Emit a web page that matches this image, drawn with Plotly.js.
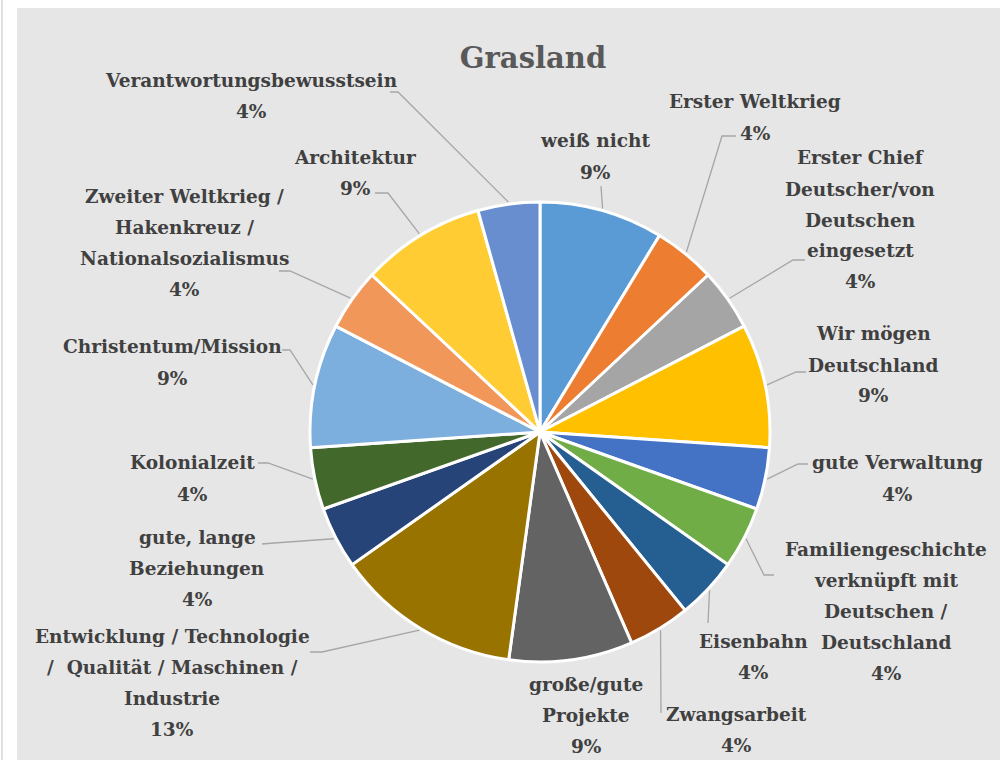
<!DOCTYPE html>
<html>
<head>
<meta charset="utf-8">
<script src="https://cdn.plot.ly/plotly-3.0.1.min.js"></script>
<style>
  html, body { margin: 0; padding: 0; background: #fff; }
  #chart { width: 1005px; height: 760px; }
</style>
</head>
<body>
<div id="chart"></div>
<script>
// categories, clockwise from 12 o'clock ("\n" = line break in the label)
const categories = [
  'weiß nicht',
  'Erster Weltkrieg',
  'Erster Chief\nDeutscher/von\nDeutschen\neingesetzt',
  'Wir mögen\nDeutschland',
  'gute Verwaltung',
  'Familiengeschichte\nverknüpft mit\nDeutschen /\nDeutschland',
  'Eisenbahn',
  'Zwangsarbeit',
  'große/gute\nProjekte',
  'Entwicklung / Technologie\n/  Qualität / Maschinen /\nIndustrie',
  'gute, lange\nBeziehungen',
  'Kolonialzeit',
  'Christentum/Mission',
  'Zweiter Weltkrieg /\nHakenkreuz /\nNationalsozialismus',
  'Architektur',
  'Verantwortungsbewusstsein'
];
const counts = [2, 1, 1, 2, 1, 1, 1, 1, 2, 3, 1, 1, 2, 1, 2, 1];

const sliceColors = ['#5B9BD5', '#ED7D31', '#A5A5A5', '#FFC000', '#4472C4', '#70AD47',
  '#255E91', '#9E480E', '#636363', '#997300', '#264478', '#43682B',
  '#7CAFDD', '#F1975A', '#FFCD33', '#698ED0'];

const W = 1005, H = 760;
const cx = 540, cy = 432, R = 230;

// label centre x / first line y (px), and leader points from the text towards the slice
const labelPos = [
  [595, 141], [755, 102], [860, 158], [873, 334], [897, 463], [886, 549],
  [753, 641], [736, 714], [586, 684], [172, 636], [197, 537], [192, 463],
  [172, 347], [184, 196], [355, 157], [252, 80]
];
const leaderFrom = [
  [[601, 186]],
  [[736, 136], [722, 136]],
  [[805, 260], [793, 260]],
  [[806, 372], [796, 372]],
  [[808, 464], [798, 464]],
  [[774, 575], [764, 575]],
  [[708, 623]],
  [[661, 713]],
  null,
  [[310, 652], [322, 652]],
  [[262, 544], [274, 543]],
  [[258, 463], [268, 463]],
  [[282, 350], [290, 350]],
  [[279, 271], [290, 271]],
  [[375, 193], [388, 193]],
  [[390, 92], [398, 92]]
];
const lineGap = 31;

const px = x => x / W;
const py = y => 1 - y / H;

const total = counts.reduce((a, b) => a + b, 0);
const txtFont = {family: 'DejaVu Serif', size: 18.5, color: '#404040', weight: 'bold'};

const annotations = [];
const shapes = [
  {type: 'rect', xref: 'paper', yref: 'paper', x0: px(17), x1: px(1000), y0: 0, y1: py(8),
   fillcolor: '#E6E6E6', line: {width: 0}, layer: 'below'},
  {type: 'line', xref: 'paper', yref: 'paper', x0: px(2), x1: px(2), y0: 0, y1: 1,
   line: {color: '#E0E0E0', width: 2}, layer: 'below'}
];

let cum = 0;
counts.forEach((v, i) => {
  const mid = (cum + v / 2) / total * 2 * Math.PI;
  cum += v;
  const lines = categories[i].split('\n').concat([Math.round(v / total * 100) + '%']);
  lines.forEach((t, k) => {
    annotations.push({
      xref: 'paper', yref: 'paper', x: px(labelPos[i][0]), y: py(labelPos[i][1] + k * lineGap),
      text: t, showarrow: false, xanchor: 'center', yanchor: 'middle', font: txtFont
    });
  });
  if (leaderFrom[i]) {
    const ex = cx + (R + 2) * Math.sin(mid), ey = cy - (R + 2) * Math.cos(mid);
    const pts = leaderFrom[i].concat([[ex, ey]]);
    const path = pts.map((p, k) => (k ? 'L' : 'M') + px(p[0]) + ',' + py(p[1])).join(' ');
    shapes.push({type: 'path', xref: 'paper', yref: 'paper', path: path,
      line: {color: '#A6A6A6', width: 1.3}});
  }
});

const data = [{
  type: 'pie',
  labels: categories.map(c => c.replace(/\n/g, ' ')),
  values: counts,
  sort: false,
  direction: 'clockwise',
  rotation: 0,
  textinfo: 'none',
  hoverinfo: 'label+percent',
  marker: {colors: sliceColors, line: {color: '#FFFFFF', width: 3}},
  domain: {x: [px(cx - R), px(cx + R)], y: [py(cy + R), py(cy - R)]}
}];

const layout = {
  width: W, height: H,
  margin: {l: 0, r: 0, t: 0, b: 0},
  paper_bgcolor: '#FFFFFF',
  showlegend: false,
  title: {
    text: '<b>Grasland</b>',
    font: {family: 'DejaVu Serif', size: 29, color: '#595959'},
    x: px(533), xanchor: 'center', y: py(58), yanchor: 'middle', yref: 'paper'
  },
  annotations: annotations,
  shapes: shapes
};

Plotly.newPlot('chart', data, layout, {displayModeBar: false});
</script>
</body>
</html>
